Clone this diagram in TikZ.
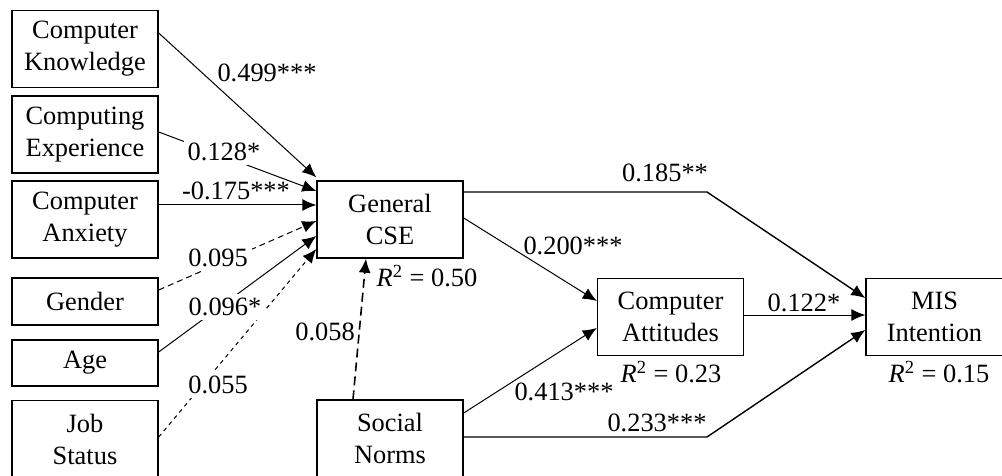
\documentclass[tikz,border=0pt]{standalone}
\usepackage{fontspec}
\setmainfont{Liberation Serif}
\usetikzlibrary{arrows.meta, positioning}

\begin{document}
\begin{tikzpicture}[x=0.5pt, y=-0.5pt, >={Latex[length=7pt, width=6pt]}, line width=0.5pt]
    \tikzset{
        var_box/.style={draw, line width=0.7pt, minimum width=73pt, minimum height=38.5pt,
            inner sep=0pt, align=center, font=\fontsize{13.2}{16}\selectfont},
        coef_label/.style={inner sep=0.5pt, font=\fontsize{13.2}{16}\selectfont},
        cut_label/.style={coef_label, fill=white, inner sep=2pt},
        weak_path/.style={dash pattern=on 3pt off 2pt},
        weak_fine/.style={dash pattern=on 2pt off 2pt},
        weak_long/.style={line width=0.8pt, dash pattern=on 4.5pt off 2.5pt},
        r_label/.style={coef_label}
    }
    \useasboundingbox (0,0) rectangle (1002,476);

    % antecedents
    \node[var_box] (know) at (85,49) {Computer\\Knowledge};
    \node[var_box] (exper) at (85,134.5) {Computing\\Experience};
    \node[var_box] (anx) at (85,219.5) {Computer\\Anxiety};
    \node[var_box, minimum height=23.5pt] (gender) at (85,301.5) {Gender};
    \node[var_box, minimum height=23pt] (age) at (85,363) {Age};
    \node[var_box] (job) at (85,439) {Job\\Status};

    \node[var_box] (cse) at (390,219.5) {General\\CSE};
    \node[var_box] (social) at (390,438.5) {Social\\Norms};
    \node[var_box] (att) at (670.5,317) {Computer\\Attitudes};
    \node[var_box, minimum width=68.5pt] (mis) at (934.5,317) {MIS\\Intention};

    % paths into general CSE
    \draw[->] ([yshift=8pt]know.east) -- ([yshift=1.5pt]cse.north west);
    \draw[->] ([yshift=1.25pt]exper.east) -- ([yshift=14.25pt]cse.west);
    \draw[->] ([yshift=7.25pt]anx.east) -- ([yshift=7.25pt]cse.west);
    \draw[->, weak_path] ([yshift=5.75pt]gender.east) -- ([yshift=-0.75pt]cse.west);
    \draw[->] ([yshift=5.5pt]age.east) -- ([yshift=-8.25pt]cse.west);
    \draw[->, weak_fine] ([yshift=1pt]job.east) -- ([yshift=-14.75pt]cse.west);
    \draw[->, weak_long] ([xshift=-18.5pt]social.north) -- ([xshift=-12pt]cse.south);

    % paths to attitudes and intention
    \coordinate (upper_bend) at (707,192);
    \coordinate (lower_bend) at (707,437);
    \draw[->, line width=0.7pt] ([yshift=13.75pt]cse.east) -- (upper_bend)
        -- ([yshift=9.5pt]mis.west);
    \draw[->] ([yshift=0.75pt]cse.east) -- ([yshift=8pt]att.west);
    \draw[->] ([yshift=12.75pt]social.east) -- ([yshift=-5.5pt]att.west);
    \draw[->, line width=0.7pt] ([yshift=0.75pt]social.east) -- (lower_bend)
        -- ([yshift=-6.5pt]mis.west);
    \draw[->] ([yshift=1pt]att.east) -- ([yshift=1pt]mis.west);

    % coefficients
    \node[coef_label] (know_coef) at (267,73) {0.499***};
    \node[cut_label] (exper_coef) at (224,152) {0.128*};
    \node[coef_label] (anx_coef) at (236,191) {-0.175***};
    \node[cut_label] (gender_coef) at (218,258) {0.095};
    \node[cut_label] (age_coef) at (225,307) {0.096*};
    \node[cut_label] (job_coef) at (218,385) {0.055};
    \node[coef_label] (social_coef) at (325,332) {0.058};
    \node[coef_label] (cse_mis_coef) at (665,173) {0.185**};
    \node[coef_label] (cse_att_coef) at (573,246) {0.200***};
    \node[coef_label] (soc_att_coef) at (564,392) {0.413***};
    \node[coef_label] (soc_mis_coef) at (657,423) {0.233***};
    \node[coef_label] (att_mis_coef) at (804,303) {0.122*};

    % explained variance
    \node[r_label] (cse_r) at (427,276) {\textit{R}\textsuperscript{2} = 0.50};
    \node[r_label] (att_r) at (671,372) {\textit{R}\textsuperscript{2} = 0.23};
    \node[r_label] (mis_r) at (939,372) {\textit{R}\textsuperscript{2} = 0.15};
\end{tikzpicture}
\end{document}
